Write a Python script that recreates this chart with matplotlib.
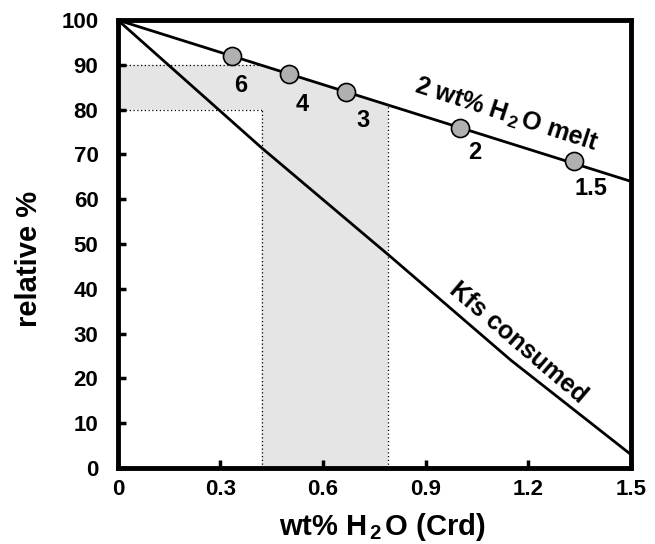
import matplotlib
matplotlib.use("Agg")
import matplotlib.pyplot as plt

plt.rcParams['font.family'] = ['Liberation Sans', 'DejaVu Sans']
plt.rcParams['font.weight'] = 'bold'
plt.rcParams['mathtext.fontset'] = 'custom'
plt.rcParams['mathtext.rm'] = 'Liberation Sans:bold'
plt.rcParams['mathtext.bf'] = 'Liberation Sans:bold'
plt.rcParams['mathtext.it'] = 'Liberation Sans:bold'

# 2 wt% H2O melt line
melt_x = [0.0, 1.5]
melt_y = [100.0, 64.0]
# points on melt line with labels
pt_x = [0.333, 0.5, 0.667, 1.0, 1.333]
pt_y = [92.0, 88.0, 84.0, 76.0, 68.5]
pt_labels = ["6", "4", "3", "2", "1.5"]
# Kfs consumed line
kfs_x = [0.0, 0.42, 0.8, 1.15, 1.5]
kfs_y = [100.0, 71.5, 47.0, 24.0, 3.0]
# shaded ranges
band_y = [80.0, 90.0]
band_x = [0.42, 0.79]

fig = plt.figure(figsize=(6.55, 5.44), dpi=100)
ax = fig.add_axes([0.180, 0.140, 0.783, 0.823])

def melt_at(x):
    return melt_y[0] + (melt_y[1] - melt_y[0]) * (x - melt_x[0]) / (melt_x[1] - melt_x[0])

# intersection of y=90 with melt line
x90 = (band_y[1] - melt_y[0]) / ((melt_y[1] - melt_y[0]) / (melt_x[1] - melt_x[0]))
poly_x = [0, 0, x90, band_x[1], band_x[1], band_x[0], band_x[0], 0]
poly_y = [band_y[0], band_y[1], band_y[1], melt_at(band_x[1]), 0, 0, band_y[0], band_y[0]]
ax.fill(poly_x, poly_y, color='#e5e5e5', lw=0, zorder=1)
dot = dict(color='black', lw=0.9, ls=(0, (1, 2)), zorder=2)
ax.plot([0, x90], [band_y[1], band_y[1]], **dot)
ax.plot([0, band_x[0]], [band_y[0], band_y[0]], **dot)
ax.plot([band_x[0], band_x[0]], [0, band_y[0]], **dot)
ax.plot([band_x[1], band_x[1]], [0, melt_at(band_x[1])], **dot)

ax.plot(melt_x, melt_y, color='black', lw=2, zorder=3)
ax.plot(kfs_x, kfs_y, color='black', lw=2, zorder=3)
ax.plot(pt_x, pt_y, 'o', ms=13, mfc='#b0b0b0', mec='black', mew=1.2, zorder=4)

offs = [(0.027, -6.5), (0.04, -6.8), (0.05, -6.5), (0.045, -5.5), (0.05, -6.0)]
for x, y, lab, (dx, dy) in zip(pt_x, pt_y, pt_labels, offs):
    ax.text(x + dx, y + dy, lab, fontsize=17, fontweight='bold', ha='center', va='center', zorder=5)

ax.text(1.135, 78.8, r"2 wt% H$_{\,2\,}$O melt", fontsize=18, fontweight='bold',
        rotation=-18, rotation_mode='anchor', ha='center', va='center')
ax.text(1.17, 28.0, "Kfs consumed", fontsize=18, fontweight='bold',
        rotation=-40.5, rotation_mode='anchor', ha='center', va='center')

ax.set_xlim(0, 1.5)
ax.set_ylim(0, 100)
ax.set_xticks([0, 0.3, 0.6, 0.9, 1.2, 1.5])
ax.set_xticklabels(["0", "0.3", "0.6", "0.9", "1.2", "1.5"])
ax.set_yticks(range(0, 101, 10))
ax.tick_params(direction='in', length=6, width=2.5, labelsize=16)
ax.tick_params(axis='y', pad=14)
ax.tick_params(axis='x', pad=8)
for lab in ax.get_xticklabels() + ax.get_yticklabels():
    lab.set_fontweight('bold')
for sp in ax.spines.values():
    sp.set_linewidth(3.5)
ax.set_xlabel(r"wt% H$_{\,2\,}$O (Crd)", fontsize=21, fontweight='bold', labelpad=8)
ax.set_ylabel("relative %", fontsize=21, fontweight='bold', labelpad=13)
ax.xaxis.label.set_x(0.515)
ax.yaxis.label.set_y(0.466)

fig.savefig("out.png", dpi=100)
